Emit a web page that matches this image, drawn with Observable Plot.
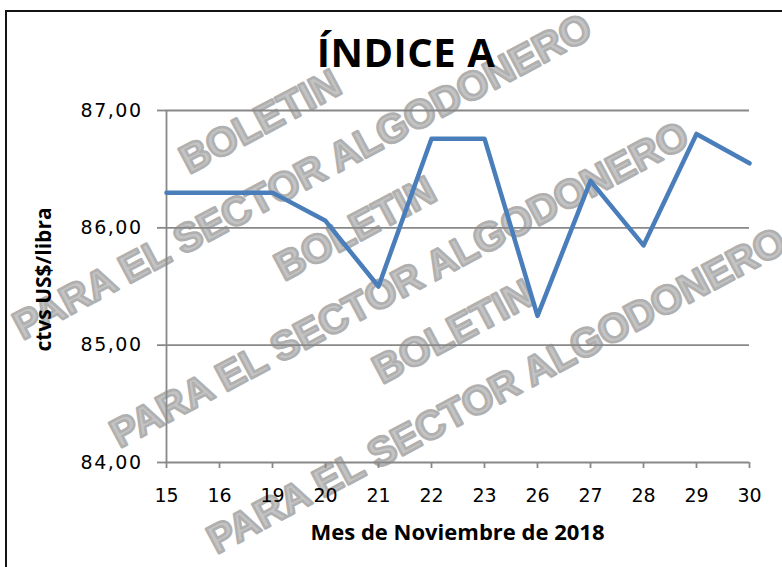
<!DOCTYPE html>
<html><head><meta charset="utf-8">
<script src="https://cdn.jsdelivr.net/npm/d3@7"></script>
<script src="https://cdn.jsdelivr.net/npm/@observablehq/plot@0.6"></script>
<style>
body{margin:0;background:#fff;width:782px;height:567px;overflow:hidden;position:relative;font-family:"Open Sans",sans-serif}
#frame{position:absolute;left:5px;top:10px;width:900px;height:700px;border:2px solid #151515;box-sizing:border-box}
#wm{position:absolute;left:0;top:0}
#chart{position:absolute;left:0;top:80px}
#title{position:absolute;left:406px;top:32px;transform:translateX(-50%);font:bold 40px "Open Sans",sans-serif;line-height:40px;white-space:nowrap;color:#000;letter-spacing:0.5px}
#chart svg [aria-label="y-axis tick label"] text{letter-spacing:1.5px}
</style></head>
<body>
<div id="frame"></div>
<svg id="wm" width="782" height="567"></svg>
<div id="chart"></div>
<div id="title">ÍNDICE A</div>
<script>
// data
const days = ["15","16","19","20","21","22","23","26","27","28","29","30"];
const values = [86.30,86.30,86.30,86.06,85.50,86.76,86.76,85.25,86.40,85.85,86.80,86.55];
const yTicks = [84,85,86,87];
const yLabel = "ctvs US$/libra";
const xLabel = "Mes de Noviembre de 2018";
const wmWords = ["BOLETIN","PARA EL SECTOR ALGODONERO"];

const data = days.map((d,i)=>({day:d, value:values[i]}));
const fmt = v => v.toFixed(2).replace(".", ",");

// watermark (decorative)
const wmLayout = [[0,260,121],[1,302,176],[0,355,228],[1,399,284],[0,453,331],[1,496,390]];
const wm = d3.select("#wm");
wmLayout.forEach(([w,cx,cy])=>{
  wm.append("text").attr("x",cx).attr("y",cy)
    .attr("text-anchor","middle").attr("dominant-baseline","central")
    .attr("transform",`rotate(-28,${cx},${cy})`)
    .attr("font-family","Liberation Sans").attr("font-weight","bold").attr("font-size",40)
    .attr("fill","#c4c4c4").attr("stroke","#b0b0b0").attr("stroke-width",2.6)
    .attr("stroke-linejoin","round")
    .text(wmWords[w]);
});

const chart = Plot.plot({
  width:782, height:487,
  marginTop:30, marginBottom:105, marginLeft:165, marginRight:33,
  style:{background:"transparent", fontFamily:"DejaVu Sans", fontSize:"19px", color:"#000", overflow:"visible"},
  x:{type:"point", domain:days, padding:0},
  y:{domain:[84,87]},
  marks:[
    Plot.gridY([85,86,87], {stroke:"#888", strokeOpacity:1, strokeWidth:1.8}),
    Plot.ruleY([84], {stroke:"#888", strokeWidth:1.8}),
    Plot.ruleX([days[0]], {x:d=>d, y1:84, y2:87, stroke:"#888", strokeWidth:1.8}),
    Plot.axisY(yTicks, {tickSize:8, tickPadding:15, tickFormat:fmt, stroke:"#888", strokeWidth:1.8, label:null}),
    Plot.axisX({tickSize:6, tickPadding:20, stroke:"#888", strokeWidth:1.8, label:null}),
    Plot.line(data, {x:"day", y:"value", stroke:"#4a7ebb", strokeWidth:4.5, strokeLinejoin:"round"}),
    Plot.text([yLabel], {frameAnchor:"left", textAnchor:"middle", rotate:-90, dx:-121, dy:-7, text:d=>d, fontWeight:"bold", fontSize:21, fontFamily:"Open Sans", fill:"#000"}),
    Plot.text([xLabel], {frameAnchor:"bottom", textAnchor:"middle", dy:70, text:d=>d, fontWeight:"bold", fontSize:22, fontFamily:"Open Sans", fill:"#000", lineAnchor:"middle"})
  ]
});
document.getElementById("chart").appendChild(chart);
</script>
</body></html>
